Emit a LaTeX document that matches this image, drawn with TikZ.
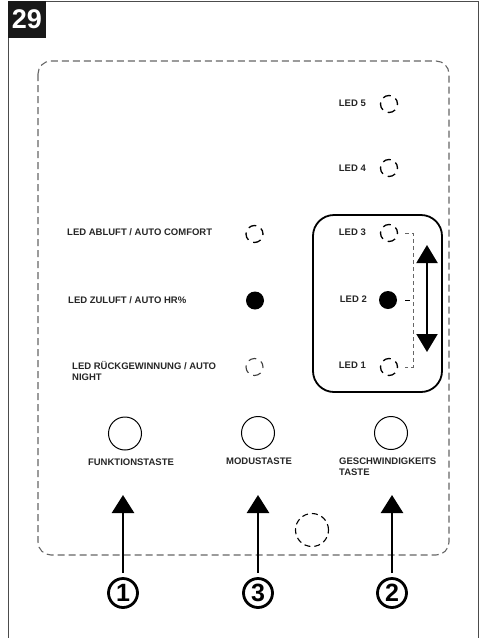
\documentclass[tikz,border=0pt]{standalone}
\usepackage{fontspec}
\setmainfont{Liberation Sans}
\usetikzlibrary{arrows.meta,calc}
\begin{document}
\begin{tikzpicture}[x=1pt,y=-1pt,
  lbl/.style={font=\bfseries\fontsize{9.5}{11}\selectfont, text=black!85, inner sep=0pt},
  dled/.style={circle, draw, dash pattern=on 8pt off 5.5pt, dash phase=2pt, line width=1.3pt, minimum size=17pt, inner sep=0pt},
  fled/.style={circle, fill=black, inner sep=0pt, minimum size=18pt},
  btn/.style={circle, draw, line width=1pt, minimum size=33pt, inner sep=0pt},
  num/.style={circle, draw, line width=2.8pt, minimum size=29pt, inner sep=0pt, font=\bfseries\fontsize{25}{25}\selectfont},
  uparrow/.style={line width=2.6pt, -{Triangle[width=22pt,length=18pt]}},
  dbl/.style={line width=2pt, {Triangle[width=21pt,length=18pt]}-{Triangle[width=21pt,length=18pt]}}
]
\useasboundingbox (0,0) rectangle (480,638);
% outer frame
\draw[black!70, line width=1pt] (8,640) -- (8,1.5) -- (478,1.5) -- (478,640);
\node[fill=black!90, minimum width=37.5pt, minimum height=37pt, inner sep=0pt, anchor=north west, text=white, font=\bfseries\fontsize{27}{27}\selectfont] (badge) at (8,1) {29};
% dashed panel
\draw[black!60, dash pattern=on 7pt off 4pt, line width=1.1pt, rounded corners=13pt] (38,61) rectangle (449,555);
% right LEDs
\node[dled] (l5) at (389,104) {};
\node[dled] (l4) at (389,168) {};
\node[dled] (l3) at (389,233) {};
\node[fled] (l2) at (388,300) {};
\node[dled] (l1) at (389,367) {};
\node[lbl, anchor=east] (t5) at (366,103) {LED 5};
\node[lbl, anchor=east] (t4) at (366,168) {LED 4};
\node[lbl, anchor=east] (t3) at (366,232) {LED 3};
\node[lbl, anchor=east] (t2) at (367,299) {LED 2};
\node[lbl, anchor=east] (t1) at (366,365) {LED 1};
% speed group
\node[draw, line width=1.8pt, rounded corners=21pt, minimum width=129pt, minimum height=177pt, inner sep=0pt] (grp) at (377.5,303.5) {};
\coordinate (b3) at (413,233);
\coordinate (b1) at (413,367);
\coordinate (b2) at (413,300);
\draw[black!60, dash pattern=on 4pt off 3pt, line width=0.9pt] ($(b3)+(-8,0)$) -- (b3) -- (b1) -- ++(-8,0);
\draw[black, line width=0.9pt] ($(b2)+(-8,0)$) -- ++(5,0);
\coordinate (at) at (427,245);
\coordinate (ab) at (427,352);
\draw[dbl] (at) -- (ab);
% left LEDs
\node[dled] (lab) at (254.5,234) {};
\node[fled] (lzu) at (255,300.5) {};
\node[dled, black!75, line width=1.1pt] (lrg) at (254.5,367) {};
\node[lbl, anchor=west] (tab) at (67,232) {LED ABLUFT / AUTO COMFORT};
\node[lbl, anchor=west] (tzu) at (68,300) {LED ZULUFT / AUTO HR\%};
\node[lbl, anchor=west, align=left] (trg) at (72,370.5) {LED RÜCKGEWINNUNG / AUTO\\NIGHT};
% buttons
\node[btn] (k1) at (125,433.5) {};
\node[btn] (k3) at (258,433) {};
\node[btn] (k2) at (391,433) {};
\node[lbl] (tk1) at (131,462) {FUNKTIONSTASTE};
\node[lbl] (tk3) at (259,461) {MODUSTASTE};
\node[lbl, anchor=west, align=left] (tk2) at (339,466.5) {GESCHWINDIGKEITS\\TASTE};
% dashed circle
\node[circle, draw, dash pattern=on 6pt off 4pt, line width=1.1pt, minimum size=33pt, inner sep=0pt] (dc) at (312,530) {};
% numbers and arrows
\node[num] (n1) at (123,593) {1};
\node[num] (n3) at (258,593) {3};
\node[num] (n2) at (392,593) {2};
\coordinate (a1) at (123,495);
\coordinate (a3) at (258,495);
\coordinate (a2) at (392,495);
\draw[uparrow] ($(n1.north)+(0,-4)$) -- (a1);
\draw[uparrow] ($(n3.north)+(0,-4)$) -- (a3);
\draw[uparrow] ($(n2.north)+(0,-4)$) -- (a2);
\end{tikzpicture}
\end{document}
